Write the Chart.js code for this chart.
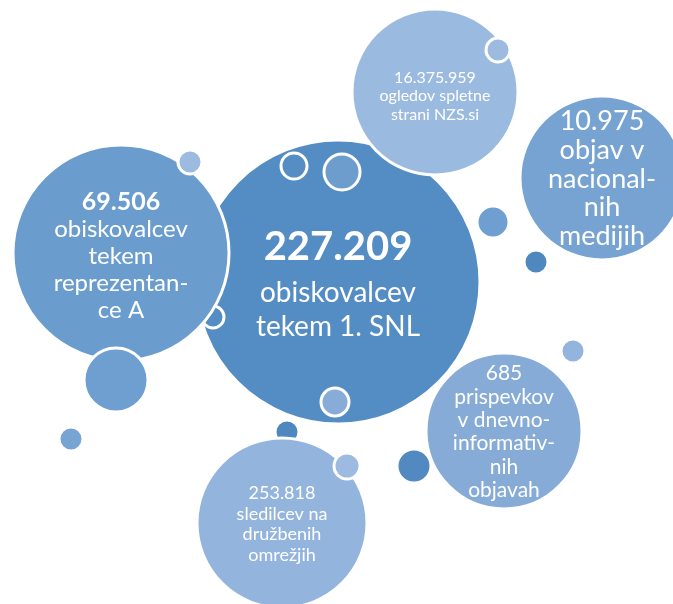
<!DOCTYPE html>
<html>
<head>
<meta charset="utf-8">
<script src="https://cdn.jsdelivr.net/npm/chart.js@4"></script>
<style>
  html, body { margin: 0; padding: 0; background: #ffffff; }
  #chart { display: block; }
</style>
</head>
<body>
<canvas id="chart" width="673" height="604"></canvas>
<script>
// bubble values, back to front
const bubbleX = [338, 213, 294, 342, 335, 121, 190, 116, 71, 435, 498, 602, 493, 536, 287, 282, 347, 414, 504, 573];
const bubbleY = [282, 317, 166, 172, 402, 253, 162, 380, 439, 92, 50, 178, 222, 262, 432, 523, 466, 466, 431, 351];
const bubbleR = [142, 11, 13, 18, 14, 108, 12, 32, 12, 83, 12, 82, 16, 12, 12, 85, 13, 17, 78, 12];

const labelBubble = [0, 5, 9, 11, 18, 15];
const labelLines = [
  ["227.209", "obiskovalcev", "tekem 1. SNL"],
  ["69.506", "obiskovalcev", "tekem", "reprezentan-", "ce A"],
  ["16.375.959", "ogledov spletne", "strani NZS.si"],
  ["10.975", "objav v", "nacional-", "nih", "medijih"],
  ["685", "prispevkov", "v dnevno-", "informativ-", "nih", "objavah"],
  ["253.818", "sledilcev na", "družbenih", "omrežjih"]
];

const fills = ['#548dc3', '#548dc3', '#568ec4', '#6d9dcc', '#88acd8', '#6a9dcd', '#9dbbe0', '#6f9fd0',
  '#78a4d4', '#9bbadf', '#9dbbe0', '#77a3d3', '#6f9fd0', '#4f88bf', '#4f88bf', '#93b4dc', '#9dbbe0',
  '#5189c0', '#86abd7', '#93b4dc'];

// font per label: [first size, first bold, rest size, first gap, gap, dy]
const labelStyle = [
  [40, true, 28, 45, 34, 5],
  [25, true, 24, 27, 27, 3],
  [16, false, 16, 18.5, 18.5, 4],
  [27, false, 27, 28.7, 28.7, 1],
  [21, false, 21, 23.4, 23.4, 1],
  [18, false, 18, 20.6, 20.6, 1]
];

const fontFamily = 'Lato, "Open Sans", sans-serif';

const bubbleText = {
  id: 'bubbleText',
  afterDatasetsDraw(chart) {
    const ctx = chart.ctx;
    const pts = chart.getDatasetMeta(0).data;
    ctx.save();
    ctx.fillStyle = '#ffffff';
    ctx.textAlign = 'center';
    ctx.textBaseline = 'middle';
    labelLines.forEach((lines, i) => {
      const p = pts[labelBubble[i]];
      const [s0, b0, s1, g0, g1, dy] = labelStyle[i];
      const height = lines.length > 1 ? g0 + g1 * (lines.length - 2) : 0;
      let y = p.y - height / 2 + dy;
      lines.forEach((line, j) => {
        ctx.font = (j === 0 && b0 ? 'bold ' : '') + (j === 0 ? s0 : s1) + 'px ' + fontFamily;
        ctx.fillText(line, p.x, y);
        y += j === 0 ? g0 : g1;
      });
    });
    ctx.restore();
  }
};

new Chart(document.getElementById('chart'), {
  type: 'bubble',
  data: {
    datasets: [{
      data: bubbleX.map((x, i) => ({ x: x, y: bubbleY[i], r: bubbleR[i] })),
      backgroundColor: fills,
      borderColor: '#ffffff',
      borderWidth: 3,
      hoverRadius: 0,
      clip: false
    }]
  },
  options: {
    responsive: false,
    animation: false,
    events: [],
    layout: { padding: 0, autoPadding: false },
    plugins: {
      legend: { display: false },
      tooltip: { enabled: false }
    },
    scales: {
      x: { type: 'linear', min: 0, max: 673, display: false },
      y: { type: 'linear', min: 0, max: 604, reverse: true, display: false }
    }
  },
  plugins: [bubbleText]
});
</script>
</body>
</html>
